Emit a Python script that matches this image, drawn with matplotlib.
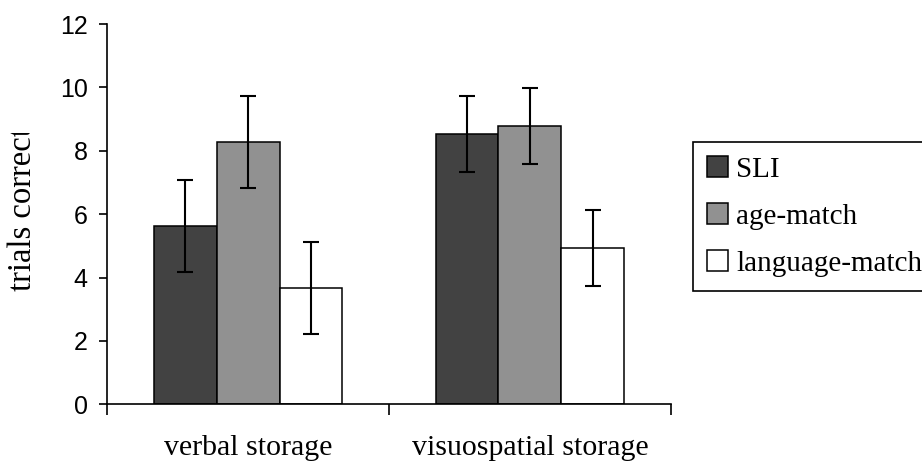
import numpy as np
import matplotlib
matplotlib.use("Agg")
import matplotlib.pyplot as plt
from matplotlib.transforms import Bbox, TransformedBbox

# values
categories = ["verbal storage", "visuospatial storage"]
groups = ["SLI", "age-match", "language-match"]
sli = [5.62, 8.53]
sli_err = [1.46, 1.21]
age = [8.27, 8.77]
age_err = [1.46, 1.20]
lang = [3.66, 4.92]
lang_err = [1.45, 1.20]
colors = ["#424242", "#919191", "#ffffff"]

W, H = 922, 469
fig = plt.figure(figsize=(W / 100, H / 100), dpi=100)
ax = fig.add_axes([107.3 / W, 1 - 404.3 / H, (670.7 - 107.3) / W, (404.3 - 24) / H])

x = np.arange(len(categories))
bw = 0.223
vals = [sli, age, lang]
errs = [sli_err, age_err, lang_err]
for i in range(3):
    ax.bar(x + (i - 1) * bw, vals[i], bw, color=colors[i], edgecolor="black",
           linewidth=1.1, label=groups[i], zorder=2)
    ax.errorbar(x + (i - 1) * bw, vals[i], yerr=errs[i], fmt="none",
                ecolor="black", elinewidth=1.5, capsize=5.5, capthick=1.5, zorder=3)

ax.set_xlim(-0.5, 1.5)
ax.set_ylim(0, 12)
ax.set_yticks(range(0, 13, 2))
for s in ["top", "right"]:
    ax.spines[s].set_visible(False)
for s in ["left", "bottom"]:
    ax.spines[s].set_linewidth(1.2)
ax.tick_params(axis="y", direction="out", length=6, width=1.2, pad=8,
               labelsize=18)
for lab in ax.get_yticklabels():
    lab.set_family("Liberation Sans")
ax.set_xticks([-0.5, 0.5, 1.5])
ax.set_xticklabels([])
ax.tick_params(axis="x", which="major", direction="out", length=8, width=1.2)
ax.set_xticks(x, minor=True)
ax.set_xticklabels(categories, minor=True, family="Liberation Serif", fontsize=21.5)
ax.tick_params(axis="x", which="minor", length=0, pad=22)

t = fig.text(23 / W, 1 - 291 / H, "trials correct", rotation=90, ha="center",
             va="bottom", family="Liberation Serif", fontsize=23.5)
t.set_clip_box(TransformedBbox(Bbox([[0, 0], [0.2, 1 - 133 / H]]), fig.transFigure))
t.set_clip_on(True)

fig.legend(loc="upper left", bbox_to_anchor=(692.7 / W, 1 - 141.7 / H),
           prop={"family": "Liberation Serif", "size": 21}, frameon=True,
           fancybox=False, edgecolor="black", framealpha=1, borderaxespad=0,
           handlelength=0.72, handleheight=0.72, handletextpad=0.27,
           labelspacing=0.7, borderpad=0.5).get_frame().set_linewidth(1.2)

fig.savefig("out.png", dpi=100)
